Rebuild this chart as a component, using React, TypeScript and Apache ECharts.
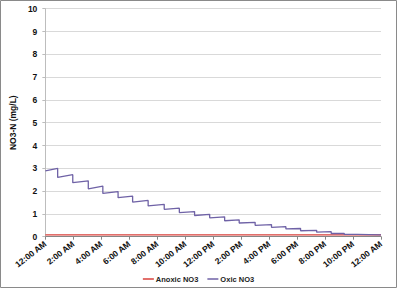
import React, { useEffect, useRef } from "react";
import * as echarts from "echarts";

// Hours since midnight
const xTickHours = [0, 2, 4, 6, 8, 10, 12, 14, 16, 18, 20, 22, 24];
const xTickLabels = [
  "12:00 AM", "2:00 AM", "4:00 AM", "6:00 AM", "8:00 AM", "10:00 AM",
  "12:00 PM", "2:00 PM", "4:00 PM", "6:00 PM", "8:00 PM", "10:00 PM", "12:00 AM",
];

// Anoxic NO3 (mg/L)
const anoxicHours = [0, 2, 4, 6, 8, 10, 12, 14, 16, 18, 20, 22, 24];
const anoxicValues = [0.08, 0.08, 0.08, 0.08, 0.08, 0.08, 0.08, 0.08, 0.08, 0.08, 0.08, 0.08, 0.08];

// Oxic NO3: start value, then for each cycle the time of the drop,
// the value just before the drop and the value just after it.
const oxicStartValue = 2.89;
const oxicDropHours = [0.88, 1.96, 3.07, 4.11, 5.2, 6.24, 7.35, 8.5, 9.58, 10.67, 11.75, 12.82, 13.86, 15.0, 16.17, 17.2, 18.25, 19.4, 20.44, 21.37, 22.3];
const oxicPeakValues = [3.0, 2.72, 2.45, 2.22, 1.98, 1.78, 1.59, 1.42, 1.25, 1.1, 0.98, 0.87, 0.74, 0.63, 0.53, 0.44, 0.36, 0.28, 0.22, 0.15, 0.1];
const oxicBaseValues = [2.6, 2.37, 2.1, 1.9, 1.71, 1.52, 1.35, 1.2, 1.06, 0.93, 0.83, 0.7, 0.6, 0.5, 0.41, 0.34, 0.26, 0.2, 0.14, 0.1, 0.08];
const oxicEndValue = 0.08;

const FONT = "Liberation Sans";
const FS = 8.5;
const LFS = 7.5;

export default function App() {
  const ref = useRef<HTMLDivElement>(null);
  useEffect(() => {
    document.body.style.margin = "0";
    if (!ref.current) return;
    const chart = echarts.init(ref.current, null, { renderer: "svg" });

    const oxicData: number[][] = [[0, oxicStartValue]];
    oxicDropHours.forEach((h, i) => {
      oxicData.push([h, oxicPeakValues[i]]);
      oxicData.push([h, oxicBaseValues[i]]);
    });
    oxicData.push([24, oxicEndValue]);
    const anoxicData = anoxicHours.map((h, i) => [h, anoxicValues[i]]);

    chart.setOption({
      animation: false,
      backgroundColor: "#ffffff",
      textStyle: { fontFamily: FONT },
      grid: { left: 35, right: 16, top: 8.7, bottom: 51.3, containLabel: false },
      graphic: [
        {
          type: "rect",
          shape: { x: 0.5, y: 0.5, width: 396, height: 287 },
          style: { fill: "none", stroke: "#8a8a8a", lineWidth: 1 },
          silent: true,
        },
      ],
      legend: {
        top: 270,
        left: "center",
        icon: "rect",
        itemWidth: 11,
        itemHeight: 1.5,
        itemGap: 9,
        textStyle: { fontFamily: FONT, fontSize: LFS, fontWeight: "bold", color: "#222", padding: [0, 0, 0, -3] },
        data: ["Anoxic NO3", "Oxic NO3"],
      },
      xAxis: {
        type: "value",
        min: 0,
        max: 24,
        interval: 2,
        axisLine: { show: true, lineStyle: { color: "#868686", width: 1 } },
        axisTick: { show: true, length: 3, lineStyle: { color: "#868686" } },
        splitLine: { show: false },
        axisLabel: {
          rotate: 38,
          fontSize: FS,
          fontWeight: "bold",
          color: "#111",
          fontFamily: FONT,
          margin: 6,
          formatter: (v: number) => {
            const idx = xTickHours.indexOf(v);
            return idx >= 0 ? xTickLabels[idx] : "";
          },
        },
      },
      yAxis: {
        type: "value",
        min: 0,
        max: 10,
        interval: 1,
        name: "NO3-N (mg/L)",
        nameLocation: "middle",
        nameGap: 25,
        nameTextStyle: { fontFamily: FONT, fontSize: FS, fontWeight: "bold", color: "#111" },
        axisLine: { show: true, lineStyle: { color: "#bdbdbd", width: 1 } },
        axisTick: { show: true, length: 3, lineStyle: { color: "#bdbdbd" } },
        splitLine: { show: true, lineStyle: { color: "#d9d9d9", width: 1 } },
        axisLabel: { fontSize: FS, fontWeight: "bold", color: "#111", fontFamily: FONT, margin: 8 },
      },
      series: [
        {
          name: "Anoxic NO3",
          type: "line",
          data: anoxicData,
          symbol: "none",
          lineStyle: { color: "#d9403b", width: 1.3 },
          itemStyle: { color: "#d9403b" },
        },
        {
          name: "Oxic NO3",
          type: "line",
          data: oxicData,
          symbol: "none",
          lineStyle: { color: "#6f62a6", width: 1.3 },
          itemStyle: { color: "#6f62a6" },
        },
      ],
    });
    return () => chart.dispose();
  }, []);
  return <div ref={ref} style={{ width: 397, height: 288 }} />;
}
